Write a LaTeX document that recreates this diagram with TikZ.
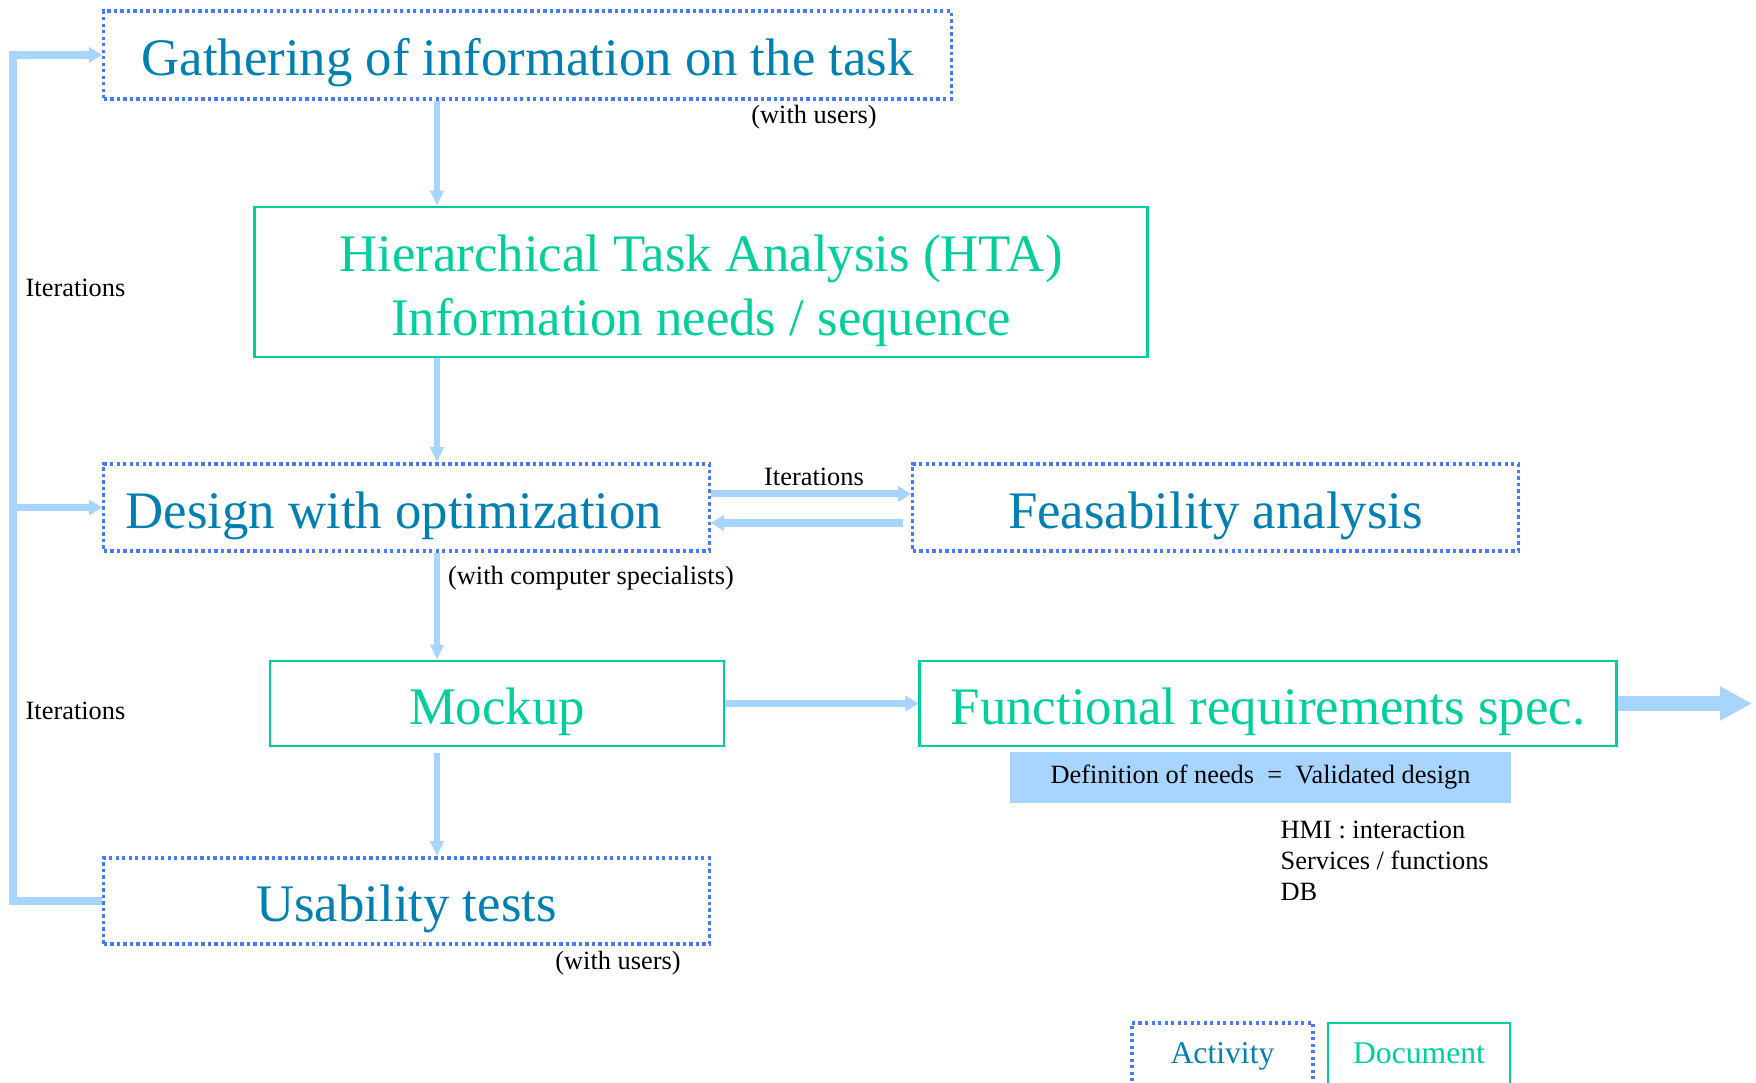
\documentclass[tikz,border=0pt]{standalone}
\usepackage{fontspec}
\setmainfont{Liberation Serif}
\usetikzlibrary{arrows.meta}
\definecolor{actline}{RGB}{70,122,255}
\definecolor{acttext}{RGB}{0,128,178}
\definecolor{docgreen}{RGB}{0,206,156}
\definecolor{flowblue}{RGB}{168,213,255}
\newcommand{\bigtext}{\fontsize{15}{18.2}\selectfont}
\newcommand{\smalltext}{\fontsize{7.5}{8.8}\selectfont}
\begin{document}
\begin{tikzpicture}[x=0.01cm,y=-0.01cm,
    activity/.style={draw=actline, line width=0.95pt, dash pattern=on 0.95pt off 0.9pt,
        text=acttext, inner sep=0pt, font=\bigtext, text height=13pt, text depth=1.3pt},
    document/.style={draw=docgreen, line width=0.75pt, text=docgreen, inner sep=0pt,
        font=\bigtext, text height=13pt, text depth=1.3pt},
    flow/.style={draw=flowblue, line width=1.7pt, -{Triangle[length=4.3pt,width=3.7pt]}},
    loopline/.style={draw=flowblue, line width=2pt, line join=miter},
    looparrow/.style={loopline, -{Triangle[length=3.7pt,width=4.3pt]}},
    note/.style={font=\smalltext, inner sep=0pt}]
    \useasboundingbox (0,0) rectangle (1756,1083);
    % Activities and documents
    \node[activity, minimum width=8.47cm, minimum height=0.88cm] (gather) at (527.5,55)
        {Gathering of information on the task};
    \node[document, minimum width=8.92cm, minimum height=1.50cm, align=center,
        text height=31.5pt, text depth=1.3pt] (hta) at (701,282)
        {Hierarchical Task Analysis (HTA)\\Information needs / sequence};
    \node[activity, minimum width=6.05cm, minimum height=0.87cm] (design) at (406.5,507.5)
        {Design with optimization\hspace*{0.25cm}};
    \node[activity, minimum width=6.05cm, minimum height=0.87cm] (feas) at (1215.5,507.5)
        {Feasability analysis};
    \node[document, minimum width=4.54cm, minimum height=0.85cm] (mockup) at (497,703.5)
        {Mockup};
    \node[document, minimum width=6.96cm, minimum height=0.85cm] (func) at (1268,703.5)
        {Functional requirements spec.};
    \node[activity, minimum width=6.05cm, minimum height=0.86cm] (usab) at (406.5,901)
        {Usability tests};
    \node[fill=flowblue, note, minimum width=5.01cm, minimum height=0.51cm] (needs) at (1260.5,777.5)
        {Definition of needs\enspace=\enspace Validated design};
    \node[note, anchor=north west, align=left] (items) at (1280,820)
        {HMI : interaction\\Services / functions\\DB};
    % Notes
    \node[note] (users1) at (814,117) {(with users)};
    \node[note] (spec) at (591,578) {(with computer specialists)};
    \node[note] (users2) at (618,963) {(with users)};
    \node[note] (iterfeas) at (814,477) {Iterations};
    \node[note, anchor=west] (iter1) at (25,288) {Iterations};
    \node[note, anchor=west] (iter2) at (25,711) {Iterations};
    % Legend
    \node[activity, font=\fontsize{9}{11}\selectfont, text height=6.5pt, text depth=1.5pt,
        minimum width=1.81cm, minimum height=0.64cm] (legact) at (1222.5,1055) {Activity};
    \node[document, font=\fontsize{9}{11}\selectfont, text height=6.5pt, text depth=1.5pt,
        minimum width=1.82cm, minimum height=0.64cm] (legdoc) at (1419,1055) {Document};
    % Main flow
    \coordinate (spine) at (437,0);
    \coordinate (back) at (13,0);
    \coordinate (out) at (1752,0);
    \draw[flow] (gather.south -| spine) -- (hta.north -| spine);
    \draw[flow] (hta.south -| spine) -- (design.north -| spine);
    \draw[flow] (design.south -| spine) -- (mockup.north -| spine);
    \draw[flow] ([yshift=-0.06cm]mockup.south -| spine) -- (usab.north -| spine);
    \draw[looparrow] ([yshift=0.135cm]design.east) -- ([yshift=0.135cm]feas.west);
    \draw[looparrow] ([xshift=-0.08cm,yshift=-0.155cm]feas.west) -- ([yshift=-0.155cm]design.east);
    \draw[looparrow] (mockup.east) -- (func.west);
    \draw[draw=flowblue, line width=4.3pt, -{Triangle[length=9.1pt,width=9.1pt]}]
        (func.east) -- (func.east -| out);
    % Iteration loop
    \draw[looparrow] (usab.west) -- (usab.west -| back) |- (gather.west);
    \draw[looparrow] (design.west -| back) -- (design.west);
\end{tikzpicture}
\end{document}
